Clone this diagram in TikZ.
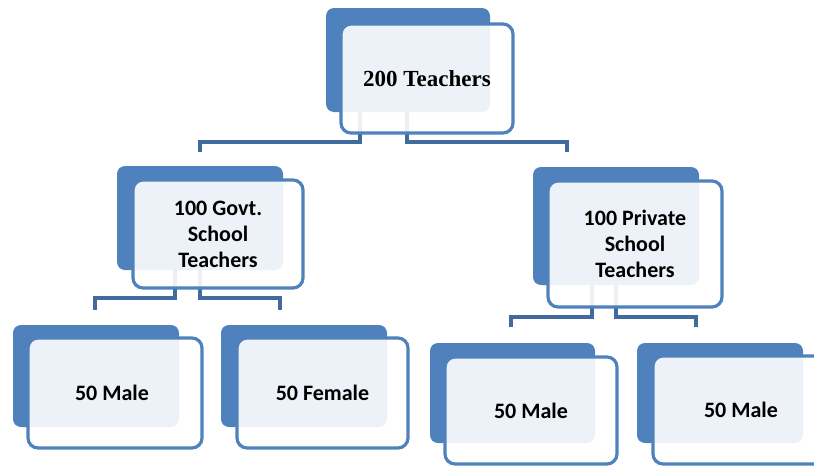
\documentclass[tikz,border=0pt]{standalone}
\usepackage{fontspec}
\setmainfont{Carlito}
\newfontfamily\serifb{Liberation Serif}
\definecolor{backblue}{RGB}{79,129,189}
\definecolor{frontblue}{RGB}{79,129,189}
\definecolor{linkblue}{RGB}{65,106,158}
\tikzset{
  backbox/.style={draw=none, fill=backblue, rounded corners=8pt, inner sep=0pt},
  frontbox/.style={draw=frontblue, line width=3.2pt, fill=white, fill opacity=0.9, draw opacity=1, text opacity=1, rounded corners=10pt, inner sep=0pt, align=center, font=\fontsize{22}{26}\selectfont\bfseries},
  topfont/.style={font=\fontsize{23}{27}\selectfont\serifb\bfseries},
  link/.style={draw=linkblue, line width=3.4pt}
}
\begin{document}
\begin{tikzpicture}[x=1pt,y=-1pt]
\useasboundingbox (0,0) rectangle (814,466);
\clip (0,0) rectangle (814,466);
% back boxes
\node[backbox, minimum width=164pt, minimum height=104pt] (tb) at (408,60) {};
\node[backbox, minimum width=166pt, minimum height=104pt] (gb) at (200,218) {};
\node[backbox, minimum width=166pt, minimum height=118pt] (pb) at (616,226) {};
\node[backbox, minimum width=166pt, minimum height=102pt] (m1b) at (96,376) {};
\node[backbox, minimum width=166pt, minimum height=102pt] (f1b) at (304,376) {};
\node[backbox, minimum width=165pt, minimum height=100pt] (m2b) at (512.5,393) {};
\node[backbox, minimum width=166pt, minimum height=100pt] (m3b) at (720,393) {};
% connector end points
\coordinate (ta) at (360,112);
\coordinate (tc) at (407,112);
\coordinate (tl) at (200,152);
\coordinate (tr) at (567,152);
\coordinate (ga) at (175,270);
\coordinate (gc) at (200,270);
\coordinate (gl) at (95,310);
\coordinate (gr) at (280,310);
\coordinate (pa) at (592,285);
\coordinate (pc) at (616,285);
\coordinate (pl) at (511,327);
\coordinate (pr) at (696,327);
% connectors
\draw[link] (ta) -- (360,142) -| (tl);
\draw[link] (tc) -- (407,142) -| (tr);
\draw[link] (ga) -- (175,298) -| (gl);
\draw[link] (gc) -- (200,298) -| (gr);
\draw[link] (pa) -- (592,317) -| (pl);
\draw[link] (pc) -- (616,317) -| (pr);
% front boxes
\node[frontbox, topfont, minimum width=172pt, minimum height=109pt] (tf) at (427,78.5) {200 Teachers};
\node[frontbox, minimum width=170pt, minimum height=108pt] (gf) at (218,234) {100 Govt.\\School\\Teachers};
\node[frontbox, minimum width=174pt, minimum height=126pt] (pf) at (635,244) {100 Private\\School\\Teachers};
\node[frontbox, minimum width=174pt, minimum height=110pt] (m1f) at (115,393) {\hspace*{-6pt}50 Male};
\node[frontbox, minimum width=171pt, minimum height=110pt] (f1f) at (322.5,393) {50 Female};
\node[frontbox, minimum width=172pt, minimum height=107pt] (m2f) at (531,410.5) {50 Male};
\node[frontbox, minimum width=176pt, minimum height=108pt] (m3f) at (741,410) {50 Male};
\end{tikzpicture}
\end{document}
